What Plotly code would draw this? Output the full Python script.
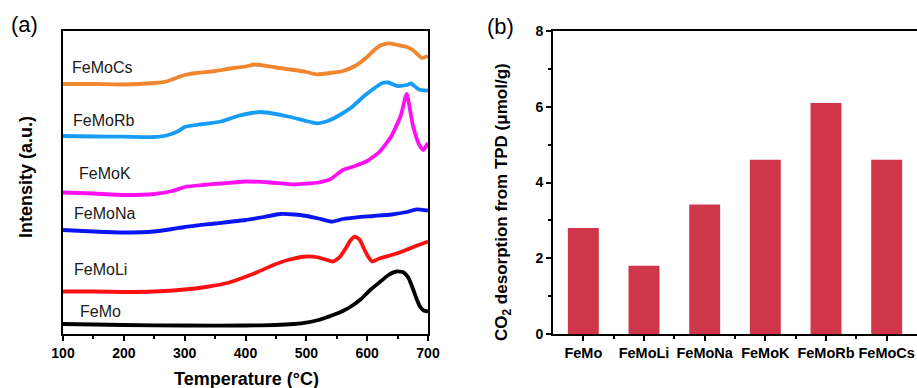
import plotly.graph_objects as go

# ---------------- Panel (a): CO2-TPD profiles (intensity, a.u.) ----------------
T_cs = [100, 150, 200, 250, 270, 290, 300, 320, 350, 380, 400, 415, 430, 450, 480, 500, 517, 540, 560, 580, 600, 610, 620, 635, 650, 665, 675, 690, 700]
I_cs = [250, 250, 249.5, 251, 252.5, 257, 259, 261, 263, 266, 267.5, 269.5, 268.5, 266.5, 264, 262, 259.7, 261, 263, 268, 277, 283, 288, 290.7, 289, 287, 284, 276, 278]

T_rb = [100, 150, 200, 250, 270, 290, 300, 330, 360, 390, 410, 425, 445, 470, 500, 517, 535, 555, 575, 595, 610, 625, 635, 650, 665, 672, 685, 700]
I_rb = [198, 197.5, 197.3, 197, 198.5, 203, 207, 210, 212.5, 218.5, 221, 222, 220.5, 217.5, 213, 210.7, 213, 219, 227, 238, 245, 251, 251.5, 248, 249, 250.5, 244.5, 243.3]

T_k = [100, 150, 200, 250, 280, 300, 330, 360, 400, 440, 480, 520, 540, 560, 580, 600, 620, 640, 655, 665, 675, 685, 692, 700]
I_k = [141.5, 140.5, 139, 140, 143, 147, 149, 150.5, 152.5, 151.5, 149.5, 151.5, 155, 164, 168, 173, 182, 198, 218, 240, 209, 190, 184, 191]

T_na = [100, 150, 200, 250, 280, 300, 350, 400, 430, 457, 480, 500, 520, 542, 560, 583, 610, 640, 665, 681, 700]
I_na = [104, 102.5, 101.5, 102.5, 105, 107, 110.5, 114, 117, 120, 119.5, 118, 115.5, 112.3, 115, 116.7, 118, 119.5, 122, 124.7, 123.5]

T_li = [100, 150, 200, 250, 300, 340, 370, 390, 420, 446, 470, 500, 520, 544, 555, 565, 573, 580, 588, 595, 602, 608, 620, 640, 660, 680, 700]
I_li = [42.5, 42.5, 42, 42.5, 44.5, 47.5, 51, 55, 62, 69, 74, 77.5, 76.5, 72.5, 77, 86, 94, 97.3, 94, 85, 77, 72.5, 75.5, 79, 83, 88, 92.5]

T_fm = [100, 200, 300, 400, 450, 480, 500, 520, 544, 560, 577, 590, 605, 621, 635, 648, 660, 668, 676, 682, 687, 693, 700]
I_fm = [10, 9, 8.5, 8.5, 9, 10, 11.3, 14, 19, 23, 29, 35, 44, 52, 59, 62.5, 61.5, 56, 44, 34, 27.3, 23.5, 22.3]

series_names = ["FeMoCs", "FeMoRb", "FeMoK", "FeMoNa", "FeMoLi", "FeMo"]
series_T = [T_cs, T_rb, T_k, T_na, T_li, T_fm]
series_I = [I_cs, I_rb, I_k, I_na, I_li, I_fm]
series_colors = ["#F0862F", "#179CF5", "#FF10F0", "#0A14F5", "#FF1010", "#000000"]
# label anchor positions (temperature, intensity)
label_T = [111.5, 113, 123, 115, 115, 124.7]
label_I = [266, 213.3, 160.7, 120.7, 64.7, 23]

# ---------------- Panel (b): CO2 desorption amounts ----------------
categories = ["FeMo", "FeMoLi", "FeMoNa", "FeMoK", "FeMoRb", "FeMoCs"]
desorption = [2.8, 1.8, 3.42, 4.6, 6.1, 4.6]

FONT = "Arial, Liberation Sans, sans-serif"
W, H = 917, 388

fig = go.Figure()

for name, tx, iy, col in zip(series_names, series_T, series_I, series_colors):
    fig.add_trace(go.Scatter(x=tx, y=iy, mode="lines", name=name,
                             line=dict(color=col, width=3.8, shape="spline", smoothing=0.5),
                             xaxis="x", yaxis="y", showlegend=False))

for name, lt, li in zip(series_names, label_T, label_I):
    fig.add_annotation(x=lt, y=li, xref="x", yref="y", text=name, showarrow=False,
                       xanchor="left", yanchor="middle",
                       font=dict(family=FONT, size=16, color="#1a1a1a"))

xpos = list(range(len(categories)))
fig.add_trace(go.Bar(x=xpos, y=desorption, marker=dict(color="#CF3649", line=dict(width=0)),
                     width=0.51, xaxis="x2", yaxis="y2", showlegend=False))

def px_x(p):
    return p / W

def px_y(p):
    return 1 - p / H

axis_common = dict(showgrid=False, zeroline=False, showline=True, linecolor="black",
                   linewidth=1.6, automargin=False)
tickfont = dict(family=FONT, size=14, color="black", weight="bold")

fig.update_layout(
    width=W, height=H,
    margin=dict(l=0, r=0, t=0, b=0, pad=0),
    paper_bgcolor="white", plot_bgcolor="white",
    xaxis=dict(domain=[px_x(63), px_x(428)], range=[100, 700], tickvals=[100, 200, 300, 400, 500, 600, 700],
               ticks="outside", ticklen=5, tickwidth=1.5, tickcolor="black", mirror=True,
               tickfont=tickfont, anchor="y",
               minor=dict(dtick=50, ticks="outside", ticklen=3, tickwidth=1.5, tickcolor="black"),
               **axis_common),
    yaxis=dict(domain=[px_y(334), px_y(31)], range=[0, 303], showticklabels=False, ticks="",
               mirror=True, anchor="x", **axis_common),
    xaxis2=dict(domain=[px_x(553), 1.0], range=[-0.5, 5.5], tickvals=xpos, ticktext=categories,
                tickangle=0,
                ticks="outside", ticklen=5, tickwidth=1.5, tickcolor="black", mirror=True,
                tickfont=dict(family=FONT, size=14.5, color="black", weight="bold"), anchor="y2",
                minor=dict(tickvals=[i + 0.5 for i in xpos[:-1]], ticks="outside", ticklen=3,
                           tickwidth=1.5, tickcolor="black"),
                **axis_common),
    yaxis2=dict(domain=[px_y(334), px_y(31)], range=[0, 8], tickvals=[0, 2, 4, 6, 8],
                ticks="outside", ticklen=5, tickwidth=1.5, tickcolor="black", anchor="x2",
                tickfont=tickfont,
                minor=dict(tickvals=[1, 3, 5, 7], ticks="outside", ticklen=3, tickwidth=1.5,
                           tickcolor="black"),
                **axis_common),
)

# panel tags and axis titles
fig.add_annotation(x=px_x(24), y=px_y(25), xref="paper", yref="paper", text="(a)", showarrow=False,
                   font=dict(family=FONT, size=22, color="black"), xanchor="center", yanchor="middle")
fig.add_annotation(x=px_x(501), y=px_y(27), xref="paper", yref="paper", text="(b)", showarrow=False,
                   font=dict(family=FONT, size=22, color="black"), xanchor="center", yanchor="middle")
fig.add_annotation(x=px_x(246), y=px_y(379), xref="paper", yref="paper", text="Temperature (°C)",
                   showarrow=False, font=dict(family=FONT, size=18, color="black", weight="bold"),
                   xanchor="center", yanchor="middle")
fig.add_annotation(x=px_x(26), y=px_y(177), xref="paper", yref="paper", text="Intensity (a.u.)",
                   showarrow=False, textangle=-90,
                   font=dict(family=FONT, size=18, color="black", weight="bold"),
                   xanchor="center", yanchor="middle")
fig.add_annotation(x=px_x(503), y=px_y(202), xref="paper", yref="paper",
                   text="CO<sub>2</sub> desorption from TPD (μmol/g)",
                   showarrow=False, textangle=-90,
                   font=dict(family=FONT, size=17, color="black", weight="bold"),
                   xanchor="center", yanchor="middle")

fig.write_html("out.html",
               config={"displayModeBar": False},
               post_script="document.body.style.margin='0';document.body.style.padding='0';"
                           "document.body.style.overflow='hidden';")
